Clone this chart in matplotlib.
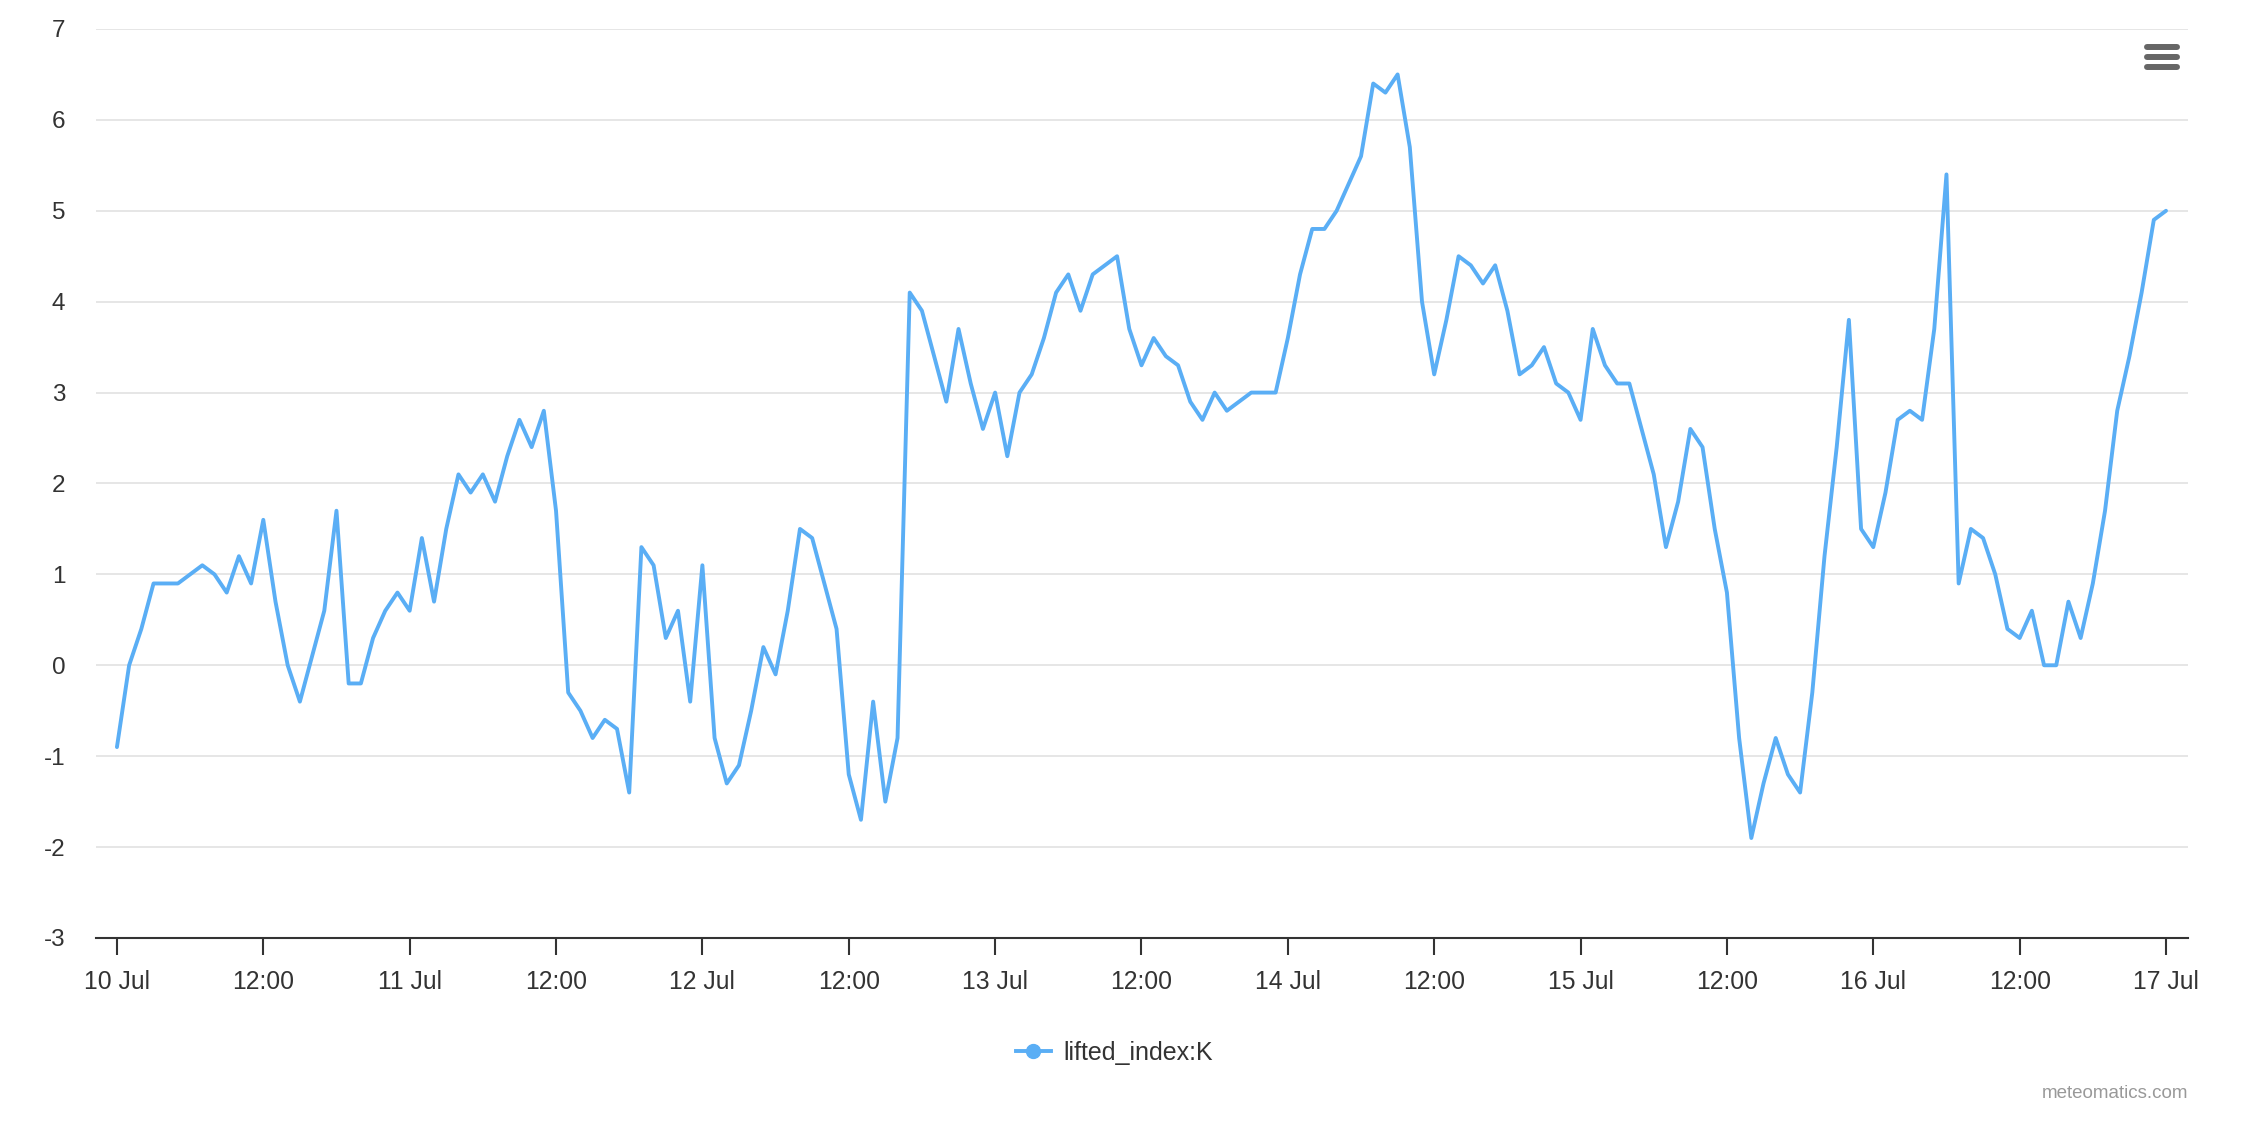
import numpy as np
import matplotlib
matplotlib.use("Agg")
import matplotlib.pyplot as plt
from matplotlib.lines import Line2D

plt.rcParams['font.family'] = ['Liberation Sans', 'DejaVu Sans']

# lifted_index:K, hourly from 10 Jul 00:00 to 17 Jul 00:00
values = [
    -0.9, 0.0, 0.4, 0.9, 0.9, 0.9, 1.0, 1.1, 1.0, 0.8, 1.2, 0.9,
    1.6, 0.7, 0.0, -0.4, 0.1, 0.6, 1.7, -0.2, -0.2, 0.3, 0.6, 0.8,
    0.6, 1.4, 0.7, 1.5, 2.1, 1.9, 2.1, 1.8, 2.3, 2.7, 2.4, 2.8,
    1.7, -0.3, -0.5, -0.8, -0.6, -0.7, -1.4, 1.3, 1.1, 0.3, 0.6, -0.4,
    1.1, -0.8, -1.3, -1.1, -0.5, 0.2, -0.1, 0.6, 1.5, 1.4, 0.9, 0.4,
    -1.2, -1.7, -0.4, -1.5, -0.8, 4.1, 3.9, 3.4, 2.9, 3.7, 3.1, 2.6,
    3.0, 2.3, 3.0, 3.2, 3.6, 4.1, 4.3, 3.9, 4.3, 4.4, 4.5, 3.7,
    3.3, 3.6, 3.4, 3.3, 2.9, 2.7, 3.0, 2.8, 2.9, 3.0, 3.0, 3.0,
    3.6, 4.3, 4.8, 4.8, 5.0, 5.3, 5.6, 6.4, 6.3, 6.5, 5.7, 4.0,
    3.2, 3.8, 4.5, 4.4, 4.2, 4.4, 3.9, 3.2, 3.3, 3.5, 3.1, 3.0,
    2.7, 3.7, 3.3, 3.1, 3.1, 2.6, 2.1, 1.3, 1.8, 2.6, 2.4, 1.5,
    0.8, -0.8, -1.9, -1.3, -0.8, -1.2, -1.4, -0.3, 1.2, 2.4, 3.8, 1.5,
    1.3, 1.9, 2.7, 2.8, 2.7, 3.7, 5.4, 0.9, 1.5, 1.4, 1.0, 0.4,
    0.3, 0.6, 0.0, 0.0, 0.7, 0.3, 0.9, 1.7, 2.8, 3.4, 4.1, 4.9,
    5.0,
]
hours = np.arange(len(values))

tick_labels = ["10 Jul", "12:00", "11 Jul", "12:00", "12 Jul", "12:00",
               "13 Jul", "12:00", "14 Jul", "12:00", "15 Jul", "12:00",
               "16 Jul", "12:00", "17 Jul"]
y_ticks = [-3, -2, -1, 0, 1, 2, 3, 4, 5, 6, 7]

line_color = '#5aaef5'
text_color = '#333333'

fig = plt.figure(figsize=(22.42, 11.32), dpi=100)
ax = fig.add_axes([0.0428, 0.1714, 0.9331, 0.8030])

ax.plot(hours, values, color=line_color, lw=2.8, solid_joinstyle='round',
        solid_capstyle='round', zorder=3)

ax.set_xlim(-1.72, 169.8)
ax.set_ylim(-3, 7)
ax.set_yticks(y_ticks)
ax.set_yticklabels([str(v) for v in y_ticks])
ax.set_xticks(np.arange(0, 169, 12))
ax.set_xticklabels(tick_labels)

ax.grid(axis='y', color='#e6e6e6', lw=1.4)
ax.set_axisbelow(True)
for s in ['top', 'right', 'left']:
    ax.spines[s].set_visible(False)
ax.spines['bottom'].set_color(text_color)
ax.spines['bottom'].set_linewidth(1.5)
ax.spines['bottom'].set_zorder(4)

ax.tick_params(axis='y', length=0, pad=22, labelsize=17.5, labelcolor=text_color)
ax.tick_params(axis='x', length=12, width=1.5, color=text_color, pad=11,
               labelsize=17.8, labelcolor=text_color)

# legend
handle = Line2D([], [], color=line_color, lw=2.8, marker='o', markersize=10)
fig.legend([handle], ["lifted_index:K"], loc='center', bbox_to_anchor=(0.497, 0.070),
           frameon=False, fontsize=18, labelcolor=text_color, handlelength=1.4,
           handletextpad=0.5)

fig.text(0.976, 0.034, "meteomatics.com", ha='right', va='center',
         fontsize=13.5, color='#999999')

# menu icon
for yy in [47, 57, 67]:
    fig.add_artist(Line2D([2147 / 2242, 2177 / 2242], [1 - yy / 1132, 1 - yy / 1132],
                          color='#666666', lw=4.3, solid_capstyle='round'))

fig.savefig("out.png", dpi=100)
